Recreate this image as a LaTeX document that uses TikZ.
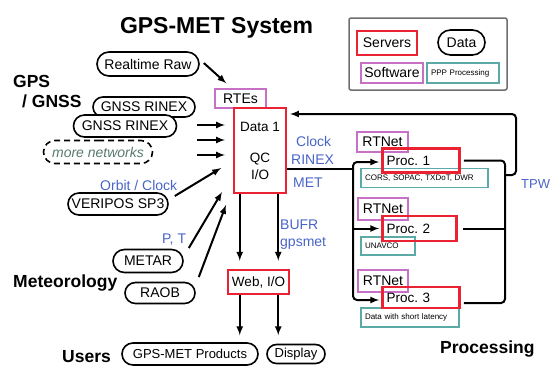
\documentclass[tikz,border=0pt]{standalone}
\usepackage{fontspec}
\setmainfont{Liberation Sans}
\usepackage{tikz}
\usetikzlibrary{calc,arrows,shapes.misc}
\frenchspacing
\definecolor{srvred}{RGB}{234,34,50}
\definecolor{swpurple}{RGB}{198,112,198}
\definecolor{pppteal}{RGB}{92,170,168}
\definecolor{lblblue}{RGB}{72,100,200}
\definecolor{netgray}{RGB}{90,122,112}
\definecolor{boxgray}{RGB}{110,110,110}
\tikzstyle{datum}=[draw,line width=1.6pt,rounded rectangle,fill=white,inner sep=0pt,minimum height=22pt,font=\fontsize{14}{16}\selectfont]
\tikzstyle{server}=[draw=srvred,line width=2.5pt,rectangle,inner sep=0pt,font=\fontsize{13.5}{17}\selectfont]
\tikzstyle{software}=[draw=swpurple,line width=1.5pt,rectangle,fill=white,inner sep=0pt,minimum height=20pt,font=\fontsize{14}{16}\selectfont]
\tikzstyle{ppp}=[draw=pppteal,line width=1.5pt,rectangle,fill=white,inner xsep=4pt,inner ysep=0pt,minimum height=19pt,align=left,font=\fontsize{8}{9}\selectfont]
\tikzstyle{heading}=[anchor=base west,inner sep=0pt,font=\bfseries\fontsize{17.5}{20}\selectfont]
\tikzstyle{flowtag}=[anchor=base west,inner sep=0pt,text=lblblue,font=\fontsize{14}{16}\selectfont]
\tikzstyle{flow}=[-latex,line width=2pt]
\begin{document}
\begin{tikzpicture}[x=1pt,y=-1pt]
\useasboundingbox (0,0) rectangle (551,367);
\node[anchor=base,inner sep=0pt,font=\bfseries\fontsize{23}{26}\selectfont] (title) at (216.5,33) {GPS-MET System};
\node[draw=boxgray,line width=1.5pt,rounded corners=2pt,minimum width=158pt,minimum height=72pt] (legend) at (428,54) {};
\node[server,minimum width=60pt,minimum height=24pt,font=\fontsize{14}{16}\selectfont] (lgserver) at (387,43) {Servers};
\node[datum,minimum width=47pt,minimum height=25pt] (lgdata) at (461.5,42.5) {Data};
\node[software,minimum width=62pt] (lgsoftware) at (392,73) {Software};
\node[ppp,text width=64pt,minimum height=20pt] (lgppp) at (463,73) {PPP Processing};
\node[heading] (gpslbl) at (13,87) {GPS};
\node[heading] (gnsslbl) at (22,107) {/ GNSS};
\node[heading] (meteo) at (13,287) {Meteorology};
\node[heading] (users) at (62,362) {Users};
\node[heading] (processing) at (440,353) {Processing};
\node[datum,minimum width=102pt,minimum height=24pt] (raw) at (148,64) {Realtime Raw};
\node[datum,minimum width=102pt,minimum height=20pt] (rinexb) at (144,107) {GNSS RINEX};
\node[datum,minimum width=103pt] (rinexa) at (125,126) {GNSS RINEX};
\node[datum,dash pattern=on 6pt off 4pt,minimum width=109pt,minimum height=23pt,text=netgray,font=\itshape\fontsize{14}{16}\selectfont] (morenet) at (98,152) {more networks};
\node[datum,minimum width=100pt] (veripos) at (118,204) {VERIPOS SP3};
\node[datum,minimum width=70pt,minimum height=23pt] (metar) at (148,261) {METAR};
\node[datum,minimum width=70pt,minimum height=21pt] (raob) at (160,293) {RAOB};
\node[datum,minimum width=136pt,font=\fontsize{13}{15}\selectfont] (products) at (190,354) {GPS-MET Products};
\node[datum,minimum width=58pt,minimum height=19pt,font=\fontsize{13}{15}\selectfont] (display) at (296,354) {Display};
\node[flowtag] (orbit) at (100,190) {Orbit / Clock};
\node[flowtag] (pt) at (162,243) {P, T};
\node[flowtag] (clock) at (296,146) {Clock};
\node[flowtag] (rinex) at (291,164) {RINEX};
\node[flowtag] (met) at (293,187) {MET};
\node[flowtag] (bufr) at (280,229) {BUFR};
\node[flowtag] (gpsmet) at (280,246) {gpsmet};
\node[flowtag,font=\fontsize{13}{15}\selectfont] (tpw) at (521,188) {TPW};
\node[software,minimum width=51pt,minimum height=19pt] (rtes) at (240.5,98.5) {RTEs};
\node[server,minimum width=52pt,minimum height=85pt,align=center] (data1) at (260,150.5) {Data 1\\[14pt]QC\\I/O};
\node[server,minimum width=61pt,minimum height=24pt] (web) at (258.5,282) {Web, I/O};
\node[ppp,text width=119pt] (cors) at (424.5,178) {CORS, SOPAC, TXDoT, DWR};
\node[ppp,text width=46pt,minimum height=18pt] (unavco) at (388,246) {UNAVCO};
\node[ppp,text width=90pt] (latency) at (410,317.5) {Data with short latency};
\node[software,minimum width=51pt] (rtnet1) at (382.5,142) {RTNet};
\node[software,minimum width=50pt,minimum height=22pt] (rtnet2) at (383,209) {RTNet};
\node[software,minimum width=50pt,minimum height=22pt] (rtnet3) at (383,281) {RTNet};
\node[server,inner xsep=4pt,text width=69pt,minimum height=24pt,align=left] (proc1) at (421,160.5) {Proc. 1};
\node[server,inner xsep=4pt,text width=66pt,minimum height=25pt,align=left] (proc2) at (419.5,228.5) {Proc. 2};
\node[server,inner xsep=4pt,text width=69pt,minimum height=21pt,align=left] (proc3) at (421,297.5) {Proc. 3};
\coordinate (in1) at (225,125);
\coordinate (in2) at (225,140);
\coordinate (in3) at (225,155);
\coordinate (in4) at (221,168);
\coordinate (in5) at (222,192);
\coordinate (in6) at (226,205);
\coordinate (fork) at (353,169);
\coordinate (join) at (505,175);
\coordinate (tpwtop) at (516,114);
\coordinate (back) at (290,114);
\draw[flow] ([shift={(4,-1)}]raw.east) -- ($(rtes.north west)+(12,-5)$);
\draw[flow] (in1) ++(-28,0) -- (in1);
\draw[flow] (in2) ++(-28,0) -- (in2);
\draw[flow] (in3) ++(-28,0) -- (in3);
\draw[flow] ([shift={(6,-8)}]veripos.east) -- (in4);
\draw[flow] ([shift={(5,-13)}]metar.east) -- (in5);
\draw[flow] ([shift={(3,-16)}]raob.east) -- (in6);
\draw[flow] ([xshift=7pt]data1.south west) -- ([xshift=13pt,yshift=8pt]web.north west);
\draw[flow] ([xshift=-9pt]data1.south east) -- ([xshift=-12pt,yshift=8pt]web.north east);
\draw[flow] ([xshift=13pt]web.south west) -- ++(0,40);
\draw[flow] ([xshift=-12pt]web.south east) -- ++(0,40);
\draw[line width=2pt] ([yshift=-18.5pt]data1.east) -- (fork);
\draw[flow,rounded corners=4pt] (fork) |- ([xshift=-2pt,yshift=-1.5pt]proc1.west);
\draw[flow] (fork |- proc2.west) -- ([xshift=-2pt]proc2.west);
\draw[flow,rounded corners=4pt] (fork) |- ([xshift=-2pt,yshift=-2.5pt]proc3.west);
\draw[line width=2pt,rounded corners=4pt] ([xshift=3pt]proc1.east) -| (join);
\draw[line width=2pt] ([xshift=5pt]proc2.east) -- (join |- proc2.east);
\draw[line width=2pt,rounded corners=4pt] ([xshift=3pt,yshift=-5.5pt]proc3.east) -| (join);
\draw[flow,rounded corners=4pt] (join) -| (tpwtop) -- (back);
\end{tikzpicture}
\end{document}
